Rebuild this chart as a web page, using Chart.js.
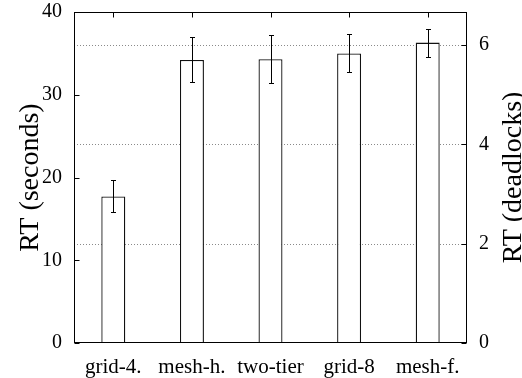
<!DOCTYPE html>
<html>
<head>
<meta charset="utf-8">
<script src="https://cdn.jsdelivr.net/npm/chart.js@4/dist/chart.umd.min.js"></script>
<style>
  html, body { margin: 0; padding: 0; background: #fff; }
  #wrap { width: 522px; height: 378px; position: relative; }
</style>
</head>
<body>
<div id="wrap"><canvas id="c"></canvas></div>
<script>
// Response time per topology, with error-bar bounds (seconds)
const categories = ['grid-4.', 'mesh-h.', 'two-tier', 'grid-8', 'mesh-f.'];
const rtSeconds = [17.7, 34.2, 34.3, 35.0, 36.3];
const errLow = [15.8, 31.5, 31.4, 32.8, 34.6];
const errHigh = [19.7, 37.0, 37.2, 37.3, 38.0];
const secondsTicks = [0, 10, 20, 30, 40];
const deadlockTicks = [0, 2, 4, 6];
const leftTitle = 'RT (seconds)';
const rightTitle = 'RT (deadlocks)';

const SERIF = "'Liberation Serif', 'Times New Roman', Times, serif";
Chart.defaults.font.family = SERIF;
Chart.defaults.color = '#000';

const TICK = 5;

// dotted grid on the deadlock axis, drawn under the bars
const gridPlugin = {
  id: 'dottedGrid',
  beforeDatasetsDraw(chart) {
    const { ctx, chartArea: a, scales } = chart;
    ctx.save();
    ctx.strokeStyle = '#8a8a8a';
    ctx.lineWidth = 1;
    ctx.setLineDash([1, 2]);
    deadlockTicks.forEach(t => {
      if (t === 0) return;
      const y = Math.round(scales.y2.getPixelForValue(t)) + 0.5;
      ctx.beginPath();
      ctx.moveTo(a.left, y);
      ctx.lineTo(a.right, y);
      ctx.stroke();
    });
    ctx.restore();
  }
};

// frame, inward tick marks, error bars and axis titles
const framePlugin = {
  id: 'frame',
  afterDatasetsDraw(chart) {
    const { ctx, chartArea: a, scales } = chart;
    const L = Math.round(a.left) + 0.5, R = Math.round(a.right) - 0.5;
    const T = Math.round(a.top) + 0.5, B = Math.round(a.bottom) - 0.5;
    ctx.save();
    ctx.strokeStyle = '#000';
    ctx.lineWidth = 1;

    // error bars
    const meta = chart.getDatasetMeta(0);
    meta.data.forEach((bar, i) => {
      const x = Math.round(bar.x) + 0.5;
      const yh = Math.round(scales.y.getPixelForValue(errHigh[i])) + 0.5;
      const yl = Math.round(scales.y.getPixelForValue(errLow[i])) + 0.5;
      ctx.beginPath();
      ctx.moveTo(x, yh); ctx.lineTo(x, yl);
      ctx.moveTo(x - 2.5, yh); ctx.lineTo(x + 2.5, yh);
      ctx.moveTo(x - 2.5, yl); ctx.lineTo(x + 2.5, yl);
      ctx.stroke();
    });

    // border box
    ctx.strokeRect(L, T, R - L, B - T);

    ctx.beginPath();
    // left ticks
    secondsTicks.forEach(v => {
      const y = Math.round(scales.y.getPixelForValue(v)) + 0.5;
      ctx.moveTo(L, y); ctx.lineTo(L + TICK, y);
    });
    // right ticks
    deadlockTicks.forEach(v => {
      const y = Math.round(scales.y2.getPixelForValue(v)) + 0.5;
      ctx.moveTo(R, y); ctx.lineTo(R - TICK, y);
    });
    // top ticks at categories
    categories.forEach((c, i) => {
      const x = Math.round(scales.x.getPixelForValue(i)) + 0.5;
      ctx.moveTo(x, T); ctx.lineTo(x, T + TICK);
    });
    ctx.stroke();

    // axis titles, both reading upward
    const midY = (a.top + a.bottom) / 2;
    ctx.fillStyle = '#000';
    ctx.font = '28px ' + SERIF;
    ctx.textAlign = 'center';
    ctx.textBaseline = 'alphabetic';
    ctx.save();
    ctx.translate(38, midY);
    ctx.rotate(-Math.PI / 2);
    ctx.fillText(leftTitle, 0, 0);
    ctx.restore();
    ctx.save();
    ctx.translate(521, midY);
    ctx.rotate(-Math.PI / 2);
    ctx.fillText(rightTitle, 0, 0);
    ctx.restore();

    ctx.restore();
  }
};

// keep the plot frame fixed: 74px left axis, 55px right axis, 35px below
function fixVertical(width) {
  return function (s) {
    s.width = width;
    s.paddingTop = 12;
    s.paddingBottom = 0;
  };
}

new Chart(document.getElementById('c'), {
  type: 'bar',
  data: {
    labels: categories,
    datasets: [{
      label: leftTitle,
      data: rtSeconds,
      yAxisID: 'y',
      backgroundColor: '#fff',
      borderColor: '#111',
      borderWidth: 1.3,
      borderSkipped: 'start',
      categoryPercentage: 1,
      barPercentage: 0.305
    }]
  },
  options: {
    responsive: true,
    maintainAspectRatio: false,
    animation: false,
    devicePixelRatio: 1,
    layout: { padding: 0 },
    plugins: { legend: { display: false }, tooltip: { enabled: false } },
    scales: {
      x: {
        grid: { display: false, drawTicks: false },
        border: { display: false },
        ticks: { font: { size: 21 }, padding: 12, maxRotation: 0, autoSkip: false },
        afterFit(s) { s.height = 35; s.paddingLeft = 0; s.paddingRight = 0; }
      },
      y: {
        position: 'left',
        min: 0, max: 40,
        grid: { display: false, drawTicks: false },
        border: { display: false },
        afterBuildTicks(s) { s.ticks = secondsTicks.map(v => ({ value: v })); },
        ticks: { font: { size: 20 }, padding: 12 },
        afterFit: fixVertical(74)
      },
      y2: {
        position: 'right',
        min: 0, max: 40 / 6,
        grid: { display: false, drawTicks: false },
        border: { display: false },
        afterBuildTicks(s) { s.ticks = deadlockTicks.map(v => ({ value: v })); },
        ticks: { font: { size: 20 }, padding: 12 },
        afterFit: fixVertical(55)
      }
    }
  },
  plugins: [gridPlugin, framePlugin]
});
</script>
</body>
</html>
